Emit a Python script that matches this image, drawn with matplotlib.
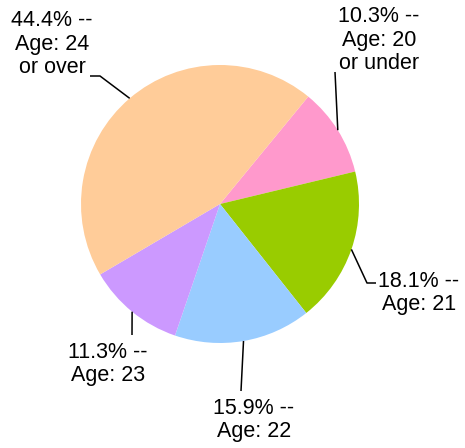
import numpy as np
import matplotlib

matplotlib.use("Agg")
import matplotlib.pyplot as plt

# slices in drawing order (clockwise from the top-right)
labels = ["Age: 20\nor under", "Age: 21", "Age: 22", "Age: 23", "Age: 24\nor over"]
shares = [10.3, 18.1, 15.9, 11.3, 44.4]
colors = ["#FF99CC", "#99CC00", "#99CCFF", "#CC99FF", "#FFCC99"]

W, H = 465, 448
CX, CY, R = 220, H - 204, 139
START = 50.6

# label block centre and leader elbow (pixel coords, y downward)
label_pos = [(379, 40), (419, 293), (254, 420), (108, 364), (52, 44)]
elbows = [
    [(335, 72)],
    [(367, 283), (376, 283)],
    [(241, 391)],
    [(132, 335)],
    [(100, 76), (90, 76)],
]

plt.rcParams["font.family"] = ["Liberation Sans", "DejaVu Sans"]

fig = plt.figure(figsize=(W / 100, H / 100), dpi=100)
ax = fig.add_axes([0, 0, 1, 1])

wedges, _ = ax.pie(
    shares, colors=colors, startangle=START, counterclock=False,
    center=(CX, CY), radius=R, frame=True,
)
ax.set_xlim(0, W)
ax.set_ylim(0, H)
ax.set_aspect("equal")
ax.axis("off")

for w, lab, share, (tx, ty), elb in zip(wedges, labels, shares, label_pos, elbows):
    mid = np.deg2rad((w.theta1 + w.theta2) / 2)
    sx, sy = CX + R * np.cos(mid), CY + R * np.sin(mid)
    xs = [sx] + [p[0] for p in elb]
    ys = [sy] + [H - p[1] for p in elb]
    ax.plot(xs, ys, color="black", lw=1.1, solid_capstyle="butt")
    ax.text(tx, H - ty, f"{share}% --\n{lab}", ha="center", va="center",
            fontsize=15.5, linespacing=1.18, color="black")

fig.savefig("out.png", dpi=100)
